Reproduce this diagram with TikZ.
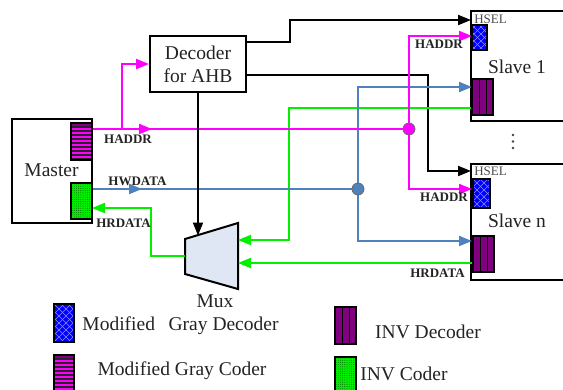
\documentclass[tikz,border=0pt]{standalone}
\usepackage{fontspec}
\setmainfont{Liberation Serif}
\usetikzlibrary{arrows.meta,decorations.markings}
\definecolor{mag}{RGB}{255,0,255}
\definecolor{grn}{RGB}{0,240,0}
\definecolor{lblue}{RGB}{79,129,189}
\definecolor{purp}{RGB}{128,0,128}
\definecolor{muxfill}{RGB}{222,231,243}
\definecolor{txt}{RGB}{35,35,35}
\definecolor{hatch}{RGB}{140,140,255}
\definecolor{dots}{RGB}{0,90,0}

\newcommand{\gdbox}[5]{%
  \fill[blue] (#1,#2) rectangle (#3,#4);
  \begin{scope}
    \clip (#1,#2) rectangle (#3,#4);
    \foreach \k in {-7,...,4}{
      \draw[hatch, line width=0.5] ({#1+7*\k},#2) -- ({#1+7*\k+45},{#2+45});
      \draw[hatch, line width=0.5] ({#1+7*\k},#4) -- ({#1+7*\k+45},{#4-45});
    }
  \end{scope}
  \draw[line width=1.5] (#1,#2) rectangle (#3,#4);
  \coordinate (#5) at ({(#1+#3)/2},{(#2+#4)/2});
}
\newcommand{\gcbox}[5]{%
  \fill[mag] (#1,#2) rectangle (#3,#4);
  \begin{scope}
    \clip (#1,#2) rectangle (#3,#4);
    \fill[purp] (#1,#2) rectangle (#3,{#2+2.5});
    \foreach \k in {0,...,10}{
      \draw[black!85, line width=1.2] (#1,{#2+4+4*\k}) -- (#3,{#2+4+4*\k});
    }
  \end{scope}
  \draw[line width=1.5] (#1,#2) rectangle (#3,#4);
  \coordinate (#5) at ({(#1+#3)/2},{(#2+#4)/2});
}
\newcommand{\icbox}[5]{%
  \fill[grn] (#1,#2) rectangle (#3,#4);
  \begin{scope}
    \clip (#1,#2) rectangle (#3,#4);
    \foreach \i in {0,...,10}{
      \foreach \j in {0,...,18}{
        \fill[dots] ({#1+1+2.2*\i},{#2+1+2.2*\j}) circle (0.45);
      }
    }
  \end{scope}
  \draw[line width=1.5] (#1,#2) rectangle (#3,#4);
  \coordinate (#5) at ({(#1+#3)/2},{(#2+#4)/2});
}
\newcommand{\idbox}[5]{%
  \fill[purp] (#1,#2) rectangle (#3,#4);
  \draw[black, line width=1] ({#1+(#3-#1)/3},#2) -- ({#1+(#3-#1)/3},#4);
  \draw[black, line width=1] ({#1+2*(#3-#1)/3},#2) -- ({#1+2*(#3-#1)/3},#4);
  \draw[line width=1.5] (#1,#2) rectangle (#3,#4);
  \coordinate (#5) at ({(#1+#3)/2},{(#2+#4)/2});
}

\begin{document}
\begin{tikzpicture}[x=1pt,y=-1pt,
  box/.style={draw=black, line width=2pt, fill=white, inner sep=0pt},
  wire/.style={line width=2pt},
  tip/.style={-{Triangle[length=13pt,width=10pt]}},
  midarrow/.style={postaction={decorate,decoration={markings,mark=at position #1 with {\arrow{Triangle[length=13pt,width=10pt]}}}}},
  big/.style={font=\fontsize{19.5}{23}\selectfont, text=txt},
  lbl/.style={font=\fontsize{13}{14}\selectfont\bfseries, text=txt, inner sep=0pt},
  hsel/.style={font=\fontsize{13}{14}\selectfont, text=black!70, inner sep=0pt},
  legtxt/.style={font=\fontsize{19.5}{23}\selectfont, text=txt, inner sep=0pt}
]
\useasboundingbox (0,0) rectangle (563,389);

% main boxes
\node[box, big, minimum width=80, minimum height=104] (master) at (52,171) {};
\node[big, inner sep=0pt] (mastertxt) at (51.5,170) {Master};
\node[box, big, minimum width=96, minimum height=56, align=center] (dec) at (198,64) {Decoder\\for AHB};
\node[box, minimum width=109, minimum height=110] (slave1) at (525.5,66) {};
\node[box, minimum width=109, minimum height=116] (slaven) at (525.5,222) {};
\node[big, inner sep=0pt] (s1txt) at (517,67) {Slave 1};
\node[big, inner sep=0pt] (sntxt) at (517,221) {Slave n};
\node[hsel] (hsel1txt) at (490.5,19.5) {HSEL};
\node[hsel] (hselntxt) at (490.5,171.5) {HSEL};

% mux
\draw[line width=2pt, fill=muxfill] (185,239) -- (238,223) -- (238,289) -- (185,274) -- cycle;
\coordinate (muxtop) at (198,235.5);
\coordinate (muxr1) at (238,240);
\coordinate (muxr2) at (238,263);
\coordinate (muxl) at (185,256);
\node[big, inner sep=0pt] (muxtxt) at (215,301) {Mux};

% ports
\coordinate (hA) at (92,129);
\coordinate (hB) at (122,129);
\coordinate (pn) at (409,129);
\coordinate (bn) at (358,189);
\coordinate (wA) at (92,189);
\coordinate (icin) at (92,208);
\coordinate (gd1in) at (472,36);
\coordinate (gdnin) at (472,189);
\coordinate (hsel1) at (471,20);
\coordinate (hseln) at (471,171);
\coordinate (d1) at (246,42);
\coordinate (d2) at (246,75);
\coordinate (id1in) at (472,87);
\coordinate (idnin) at (472,241);
\coordinate (id1out) at (472,108);
\coordinate (idnout) at (473,263);

% black wires
\draw[wire, tip] (d1) -- (290,42) |- (hsel1);
\draw[wire, tip] (d2) -- (428,75) |- (hseln);

% green wires
\draw[wire, grn, tip] (id1out) -| (289,240) -- (muxr1);
\draw[wire, grn, tip] (idnout) -- (muxr2);
\draw[wire, grn, tip] (muxl) -| (151,208) -- (icin);

% blue wires
\draw[wire, lblue, midarrow=50pt] (wA) -- (bn);
\draw[wire, lblue, tip] (bn) |- (id1in);
\draw[wire, lblue, tip] (bn) |- (idnin);

% magenta wires
\draw[wire, mag, midarrow=60pt] (hA) -- (pn);
\draw[wire, mag, tip] (hB) |- (dec.west);
\draw[wire, mag, tip] (pn) |- (gd1in);
\draw[wire, mag, tip] (pn) |- (gdnin);

% decoder to mux
\draw[wire, tip] (dec.south) -- (muxtop);

% junction dots
\node[circle, fill=mag, draw=black!60, line width=0.8pt, minimum size=12, inner sep=0pt] (pnode) at (pn) {};
\node[circle, fill=lblue, draw=black!60, line width=0.8pt, minimum size=12, inner sep=0pt] (bnode) at (bn) {};

% coder / decoder blocks
\gcbox{71}{123}{92}{160}{gcoder}
\icbox{71}{183}{92}{219}{icoder}
\gdbox{472}{25}{487}{50}{gd1}
\gdbox{473}{179}{490}{208}{gdn}
\idbox{472}{79}{493}{115}{id1}
\idbox{473}{236}{494}{272}{idn}

% ellipsis
\fill[black!75] (513,135) circle (1.4);
\fill[black!75] (513,141.5) circle (1.4);
\fill[black!75] (513,148) circle (1.4);

% labels
\node[lbl] (l1) at (128,139) {HADDR};
\node[lbl] (l2) at (137.5,181) {HWDATA};
\node[lbl] (l3) at (123.5,223.5) {HRDATA};
\node[lbl] (l4) at (439,44) {HADDR};
\node[lbl] (l5) at (444,197) {HADDR};
\node[lbl] (l6) at (437.5,273) {HRDATA};

% legend
\gdbox{54}{304}{74}{342}{leg1}
\gcbox{54}{355}{74}{396}{leg2}
\idbox{335}{307}{356}{344}{leg3}
\icbox{335}{357}{356}{396}{leg4}
\node[legtxt] (t1) at (180.5,326) {Modified\kern0.45em{} Gray Decoder};
\node[legtxt] (t2) at (182,371) {Modified Gray Coder};
\node[legtxt] (t3) at (428,332) {INV Decoder};
\node[legtxt] (t4) at (404,374) {INV Coder};
\end{tikzpicture}
\end{document}
